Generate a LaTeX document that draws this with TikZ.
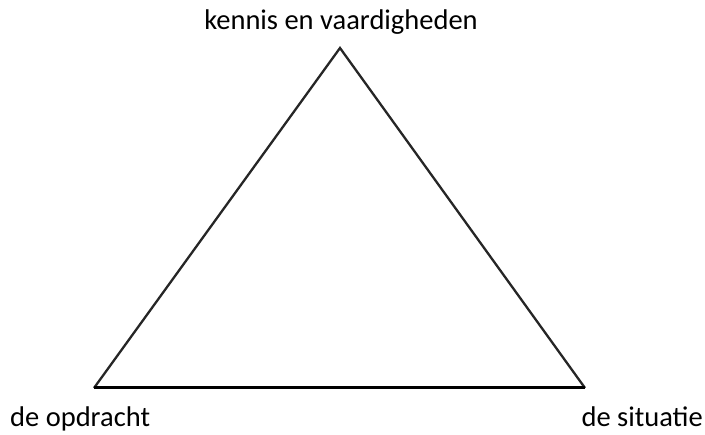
\documentclass[tikz,border=0pt]{standalone}
\usepackage{fontspec}
\setmainfont{Carlito}
\definecolor{edgegray}{HTML}{262626}
\usetikzlibrary{positioning}

\begin{document}
\begin{tikzpicture}[x=1pt,y=-1pt,
  label text/.style={font=\fontsize{28.5}{34}\selectfont,inner sep=0pt}]
\useasboundingbox (0,0) rectangle (705,435);
\coordinate (K) at (340,48);
\coordinate (O) at (94,388);
\coordinate (S) at (585,388);
\draw[line width=2.3pt,edgegray,line join=miter] (O) -- (K) -- (S);
\draw[line width=3pt,black] (O) -- (S);
\node[label text,anchor=base] (kennis) at (341,30) {kennis en vaardigheden};
\node[label text,anchor=base west] (opdracht) at (10,427) {de opdracht};
\node[label text,anchor=base east] (situatie) at (703,427) {de situatie};
\end{tikzpicture}
\end{document}
